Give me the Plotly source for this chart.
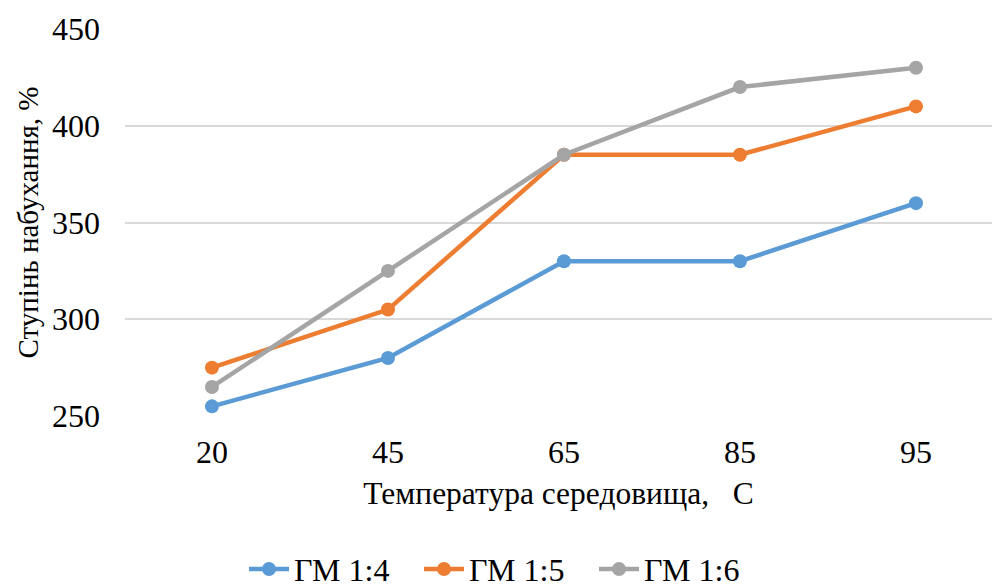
import plotly.graph_objects as go

# Temperature of the medium (categories) and swelling degree, %
temperatures = ["20", "45", "65", "85", "95"]
gm_1_4 = [255, 280, 330, 330, 360]
gm_1_5 = [275, 305, 385, 385, 410]
gm_1_6 = [265, 325, 385, 420, 430]
series_names = ["ГМ 1:4", "ГМ 1:5", "ГМ 1:6"]
colors = ["#5B9BD5", "#ED7D31", "#A5A5A5"]
y_ticks = [250, 300, 350, 400, 450]

FONT = "Times New Roman"
FS = 32

fig = go.Figure()
for name, values, color in zip(series_names, [gm_1_4, gm_1_5, gm_1_6], colors):
    fig.add_trace(go.Scatter(
        x=list(range(len(temperatures))),
        y=values,
        name=name,
        mode="lines+markers",
        line=dict(color=color, width=4.5),
        marker=dict(color=color, size=14),
    ))

fig.update_layout(
    width=992,
    height=588,
    margin=dict(l=125, r=0, t=29, b=172),
    paper_bgcolor="white",
    plot_bgcolor="white",
    font=dict(family=FONT, size=FS, color="black"),
    showlegend=True,
    legend=dict(
        orientation="h",
        xref="container", yref="container",
        x=244 / 992, y=0.032,
        xanchor="left", yanchor="middle",
        font=dict(family=FONT, size=FS, color="black"),
        itemwidth=40,
        entrywidth=120,
        entrywidthmode="pixels",
        tracegroupgap=0,
    ),
    xaxis=dict(
        tickmode="array",
        tickvals=list(range(len(temperatures))),
        ticktext=temperatures,
        range=[-0.494, 4.432],
        showgrid=False,
        zeroline=False,
        showline=False,
        ticks="",
        ticklabelstandoff=14,
        tickfont=dict(family=FONT, size=FS),
        title=dict(text="Температура середовища,\u00a0\u00a0 С", standoff=12,
                   font=dict(family=FONT, size=31.5)),
    ),
    yaxis=dict(
        range=[250, 450],
        tickvals=y_ticks,
        showgrid=True,
        gridcolor="#D9D9D9",
        gridwidth=1.5,
        zeroline=False,
        showline=False,
        ticks="",
        ticklabelstandoff=24,
        tickfont=dict(family=FONT, size=FS),
        title=dict(text="Ступінь набухання, %", standoff=4,
                   font=dict(family=FONT, size=29)),
    ),
)

fig.write_html("out.html")
